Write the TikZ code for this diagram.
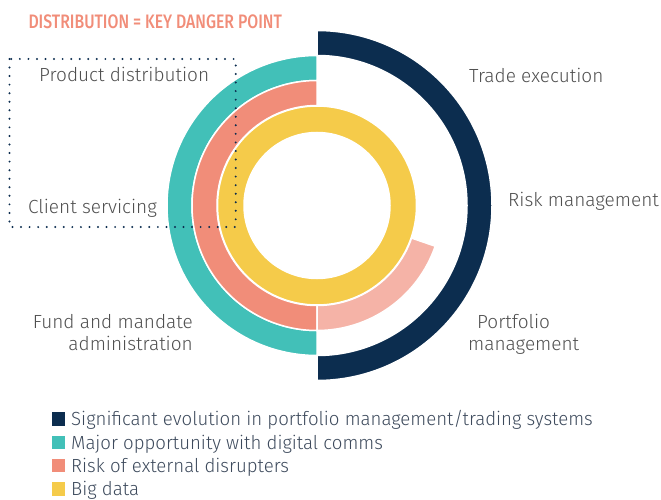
\documentclass[tikz,border=0pt]{standalone}
\usepackage{fontspec}
\newfontfamily\lblfont{Fira Sans}[UprightFont={* Light}]
\newfontfamily\legfont{Fira Sans}[UprightFont={* Light}, FakeStretch=0.98]
\newfontfamily\ttlfont{Fira Sans}[UprightFont={* Medium}, FakeStretch=0.81]
\definecolor{navy}{HTML}{0C2D4F}
\definecolor{teal}{HTML}{42C0B8}
\definecolor{salmon}{HTML}{F18D79}
\definecolor{lsalmon}{HTML}{F5B3A7}
\definecolor{yell}{HTML}{F5CB4A}
\definecolor{lblgray}{HTML}{4F4F4F}
\definecolor{leggray}{HTML}{3D4A5C}
\tikzset{
  seg/.style={draw=white, line width=1.5pt},
  lbl/.style={inner sep=0pt, text=lblgray, font=\lblfont\fontsize{19}{22}\selectfont},
  legtxt/.style={inner sep=0pt, anchor=base west, text=leggray, font=\legfont\fontsize{19}{22}\selectfont},
  legsq/.style={minimum size=13.3pt, inner sep=0pt, draw=none},
  dotbox/.style={draw=navy, line width=2.2pt, line cap=round, dash pattern=on 0pt off 8.55pt}
}
\begin{document}
\begin{tikzpicture}[x=1pt,y=-1pt]
\useasboundingbox (0,0) rectangle (661,500);
\begin{scope}[shift={(317,205.5)},y=1pt]
  % navy outer half ring (right)
  \fill[navy, seg] (90:175) arc[start angle=90,end angle=-90,radius=175] -- (-90:150) arc[start angle=-90,end angle=90,radius=150] -- cycle;
  % teal (left)
  \fill[teal, seg] (90:150) arc[start angle=90,end angle=270,radius=150] -- (270:125) arc[start angle=270,end angle=90,radius=125] -- cycle;
  % salmon (left)
  \fill[salmon, seg] (90:125) arc[start angle=90,end angle=270,radius=125] -- (270:100) arc[start angle=270,end angle=90,radius=100] -- cycle;
  % light salmon
  \fill[lsalmon, seg] (270:125) arc[start angle=270,end angle=341,radius=125] -- (341:100) arc[start angle=341,end angle=270,radius=100] -- cycle;
  % yellow full ring
  \fill[yell, seg, even odd rule] (0,0) circle[radius=99.5] (0,0) circle[radius=73];
\end{scope}
% dotted box
\draw[dotbox] (9.5,59) rectangle (235.7,227);
% title
\node[inner sep=0pt, anchor=base west, text=salmon, font=\ttlfont\fontsize{19.5}{21}\selectfont] (title) at (28.3,29) {DISTRIBUTION = KEY DANGER POINT};
% labels
\node[lbl, anchor=base west] (pd) at (39,82) {Product distribution};
\node[lbl, anchor=base west] (cs) at (28,213) {Client servicing};
\node[lbl, anchor=base west] (te) at (469,83) {Trade execution};
\node[lbl, anchor=base west] (rm) at (508,206) {Risk management};
\node[lbl, anchor=base west] (pm1) at (477,328) {Portfolio};
\node[lbl, anchor=base west] (pm2) at (468,350) {management};
\node[lbl, anchor=base east] (fm1) at (193,328) {Fund and mandate};
\node[lbl, anchor=base east] (fm2) at (193,350) {administration};
% legend
\node[legsq, fill=navy] (sq1) at (58.3,419.05) {};
\node[legsq, fill=teal] (sq2) at (58.3,442.35) {};
\node[legsq, fill=salmon] (sq3) at (58.3,465.65) {};
\node[legsq, fill=yell] (sq4) at (58.3,488.95) {};
\node[legtxt] (l1) at (71,425.7) {Significant evolution in portfolio management/trading systems};
\node[legtxt] (l2) at (71,449) {Major opportunity with digital comms};
\node[legtxt] (l3) at (71,472.3) {Risk of external disrupters};
\node[legtxt] (l4) at (71,495.6) {Big data};
\end{tikzpicture}
\end{document}
